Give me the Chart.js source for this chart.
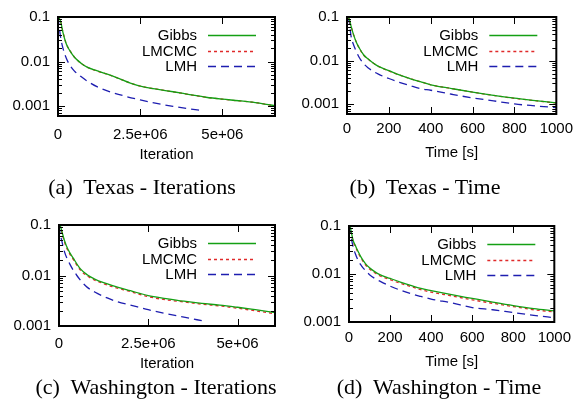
<!DOCTYPE html>
<html><head><meta charset="utf-8">
<script src="https://cdn.jsdelivr.net/npm/chart.js@4.4.1/dist/chart.umd.min.js"></script>
<style>
html,body{margin:0;padding:0;background:#fff;}
body{width:579px;height:412px;position:relative;overflow:hidden;}
canvas{position:absolute;}
.cap{position:absolute;font-family:"Liberation Serif","Times New Roman",serif;font-size:22px;color:#000;white-space:pre;transform:translate(-50%,-50%);line-height:1;}
</style></head><body>
<canvas id="c0"></canvas><canvas id="c1"></canvas><canvas id="c2"></canvas><canvas id="c3"></canvas>
<div class="cap" id="t0"></div><div class="cap" id="t1"></div><div class="cap" id="t2"></div><div class="cap" id="t3"></div>
<script>
// ---------- data ----------
const seriesNames = ['Gibbs', 'LMCMC', 'LMH'];
const captions = ['(a)  Texas - Iterations', '(b)  Texas - Time', '(c)  Washington - Iterations', '(d)  Washington - Time'];
const xTitles = ['Iteration', 'Time [s]', 'Iteration', 'Time [s]'];

const iterTicks = [0, 2500000, 5000000];
const iterTickLabels = ['0', '2.5e+06', '5e+06'];
const timeTicks = [0, 200, 400, 600, 800, 1000];
const timeTickLabels = ['0', '200', '400', '600', '800', '1000'];
const yTicks = [0.001, 0.01, 0.1];
const yTickLabels = ['0.001', '0.01', '0.1'];

// (a) Texas - Iterations
const texasIterX = [0, 0.03e6, 0.08e6, 0.15e6, 0.25e6, 0.35e6, 0.5e6, 0.7e6, 0.9e6, 1.2e6, 1.5e6, 1.8e6, 2.2e6, 2.6e6, 3.0e6, 3.5e6, 4.0e6, 4.5e6, 5.0e6, 5.5e6, 6.0e6, 6.6e6];
const texasIterGibbs = [0.1, 0.095, 0.08, 0.045, 0.025, 0.018, 0.0125, 0.0092, 0.0074, 0.0062, 0.0052, 0.0043, 0.0033, 0.0027, 0.0024, 0.0021, 0.00182, 0.00158, 0.00143, 0.00132, 0.0012, 0.00102];
const texasIterLMCMC = [0.1, 0.094, 0.079, 0.046, 0.0252, 0.0181, 0.0126, 0.0091, 0.0074, 0.0061, 0.0052, 0.0043, 0.0033, 0.0027, 0.0024, 0.0021, 0.00181, 0.00158, 0.00143, 0.00131, 0.0012, 0.00101];
const texasIterLmhX = [0, 0.03e6, 0.08e6, 0.15e6, 0.25e6, 0.35e6, 0.5e6, 0.7e6, 0.9e6, 1.2e6, 1.5e6, 2.0e6, 2.5e6, 3.0e6, 3.5e6, 4.0e6, 4.35e6];
const texasIterLMH = [0.1, 0.065, 0.035, 0.02, 0.012, 0.0085, 0.0061, 0.0046, 0.0036, 0.0027, 0.0022, 0.0017, 0.00138, 0.00115, 0.00099, 0.00087, 0.0008];

// (b) Texas - Time
const texasTimeX = [0, 5, 10, 20, 30, 45, 60, 80, 100, 125, 150, 200, 250, 300, 350, 400, 500, 600, 700, 800, 900, 1000];
const texasTimeGibbs = [0.1, 0.098, 0.092, 0.06, 0.041, 0.026, 0.019, 0.0135, 0.011, 0.0088, 0.0074, 0.0059, 0.0047, 0.0039, 0.0033, 0.0028, 0.0023, 0.0019, 0.0016, 0.00138, 0.00122, 0.00108];
const texasTimeLMCMC = [0.1, 0.097, 0.09, 0.059, 0.041, 0.0262, 0.0188, 0.0133, 0.0109, 0.0088, 0.0074, 0.0058, 0.0047, 0.0039, 0.0033, 0.0028, 0.0023, 0.0019, 0.0016, 0.00137, 0.00121, 0.00107];
const texasTimeLMH = [0.1, 0.095, 0.08, 0.035, 0.024, 0.016, 0.0115, 0.0085, 0.0069, 0.0057, 0.0049, 0.0039, 0.0032, 0.0027, 0.0023, 0.0021, 0.0017, 0.0014, 0.0012, 0.00102, 0.00092, 0.00084];

// (c) Washington - Iterations
const waIterX = [0, 0.03e6, 0.08e6, 0.15e6, 0.25e6, 0.4e6, 0.6e6, 0.8e6, 1.0e6, 1.25e6, 1.5e6, 2.0e6, 2.5e6, 3.0e6, 3.5e6, 4.0e6, 4.5e6, 5.0e6, 5.5e6, 6.05e6];
const waIterGibbs = [0.1, 0.098, 0.075, 0.05, 0.033, 0.022, 0.0135, 0.0102, 0.0085, 0.0072, 0.0063, 0.005, 0.004, 0.0035, 0.0031, 0.0028, 0.0026, 0.00235, 0.0021, 0.00185];
const waIterLMCMC = [0.1, 0.095, 0.072, 0.047, 0.031, 0.0208, 0.0128, 0.0097, 0.0081, 0.0069, 0.006, 0.0048, 0.0038, 0.0033, 0.003, 0.0027, 0.0025, 0.00225, 0.002, 0.00175];
const waIterLmhX = [0, 0.03e6, 0.08e6, 0.15e6, 0.3e6, 0.5e6, 0.75e6, 1.0e6, 1.35e6, 1.65e6, 2.0e6, 2.5e6, 3.0e6, 3.5e6, 4.05e6];
const waIterLMH = [0.1, 0.07, 0.048, 0.03, 0.017, 0.01, 0.0062, 0.0047, 0.0036, 0.003, 0.0026, 0.0021, 0.00176, 0.0015, 0.00125];

// (d) Washington - Time
const waTimeX = [0, 5, 10, 20, 30, 45, 60, 80, 100, 125, 150, 200, 250, 300, 350, 400, 500, 600, 700, 800, 900, 1000];
const waTimeGibbs = [0.1, 0.1, 0.08, 0.05, 0.04, 0.029, 0.022, 0.0165, 0.0135, 0.0112, 0.0097, 0.0081, 0.0068, 0.0058, 0.005, 0.0045, 0.0037, 0.0031, 0.0026, 0.0022, 0.0019, 0.0017];
const waTimeLMCMC = [0.1, 0.097, 0.077, 0.048, 0.038, 0.0275, 0.0208, 0.0156, 0.0127, 0.0106, 0.0092, 0.0076, 0.0064, 0.0055, 0.0047, 0.0042, 0.0035, 0.0029, 0.00245, 0.0021, 0.0018, 0.00162];
const waTimeLMH = [0.1, 0.085, 0.06, 0.037, 0.027, 0.019, 0.015, 0.0118, 0.0097, 0.0081, 0.0071, 0.0056, 0.0046, 0.0039, 0.0034, 0.003, 0.0025, 0.002, 0.0018, 0.00157, 0.00138, 0.00123];

// ---------- styling / layout ----------
const SANS = '"Liberation Sans", Arial, Helvetica, sans-serif';
const colors = ['#14a014', '#e02a2a', '#1e1eb0'];
const dashes = [[], [3, 3], [8, 5]];
const widths = [1.3, 1.3, 1.3];

function pts(xs, ys) { return xs.map((x, i) => ({ x: x, y: ys[i] })); }

const panels = [
  { L: 58, T: 12, R: 275, B: 116, padL: 56, xMax: 6.6e6, yMin: 0.0006, xt: iterTicks, xl: iterTickLabels,
    tickY: 135, titleY: 155, capX: 142, capY: 187,
    series: [pts(texasIterX, texasIterGibbs), pts(texasIterX, texasIterLMCMC), pts(texasIterLmhX, texasIterLMH)] },
  { L: 347, T: 12, R: 560, B: 114, padL: 60, xMax: 1000, yMin: 0.0006, xt: timeTicks, xl: timeTickLabels,
    tickY: 129, titleY: 153, capX: 425, capY: 187,
    series: [pts(texasTimeX, texasTimeGibbs), pts(texasTimeX, texasTimeLMCMC), pts(texasTimeX, texasTimeLMH)] },
  { L: 59, T: 220, R: 275, B: 326, padL: 56, xMax: 6.05e6, yMin: 0.001, xt: iterTicks, xl: iterTickLabels,
    tickY: 344, titleY: 364, capX: 156, capY: 387,
    series: [pts(waIterX, waIterGibbs), pts(waIterX, waIterLMCMC), pts(waIterLmhX, waIterLMH)] },
  { L: 349, T: 221, R: 559, B: 322, padL: 60, xMax: 1000, yMin: 0.001, xt: timeTicks, xl: timeTickLabels,
    tickY: 338, titleY: 362, capX: 439, capY: 387,
    series: [pts(waTimeX, waTimeGibbs), pts(waTimeX, waTimeLMCMC), pts(waTimeX, waTimeLMH)] }
];

const framePlugin = {
  id: 'gnuframe',
  afterDatasetsDraw(chart) {
    const ctx = chart.ctx, a = chart.chartArea;
    const xs = chart.scales.x, ys = chart.scales.y;
    ctx.save();
    ctx.strokeStyle = '#000';
    ctx.lineWidth = 1;
    ctx.beginPath();
    for (let d = -4; d <= -1; d++) {
      for (let m = 1; m <= 9; m++) {
        const v = m * Math.pow(10, d);
        if (v <= ys.min * 1.0001 || v >= ys.max * 0.9999) continue;
        const p = Math.round(ys.getPixelForValue(v)) + 0.5;
        const len = m === 1 ? 7 : 4;
        ctx.moveTo(a.left, p); ctx.lineTo(a.left + len, p);
        ctx.moveTo(a.right, p); ctx.lineTo(a.right - len, p);
      }
    }
    xs.ticks.forEach(t => {
      if (t.value <= xs.min || t.value >= xs.max) return;
      const p = Math.round(xs.getPixelForValue(t.value)) + 0.5;
      ctx.moveTo(p, a.top); ctx.lineTo(p, a.top + 7);
      ctx.moveTo(p, a.bottom); ctx.lineTo(p, a.bottom - 7);
    });
    ctx.stroke();
    ctx.lineWidth = 2;
    ctx.strokeRect(a.left, a.top, a.right - a.left, a.bottom - a.top);
    // legend
    ctx.font = '15px ' + SANS;
    ctx.textAlign = 'right';
    ctx.textBaseline = 'middle';
    for (let i = 0; i < seriesNames.length; i++) {
      const y = Math.round(a.top + 18 + i * 15.5);
      ctx.fillStyle = '#000';
      ctx.fillText(seriesNames[i], a.right - 78, y + 1);
      ctx.strokeStyle = colors[i];
      ctx.lineWidth = 1.5;
      ctx.setLineDash(dashes[i]);
      ctx.beginPath();
      ctx.moveTo(a.right - 67, y + 0.5);
      ctx.lineTo(a.right - 19, y + 0.5);
      ctx.stroke();
      ctx.setLineDash([]);
    }
    ctx.restore();
  }
};

panels.forEach((p, k) => {
  const padT = 12, padR = 19, padB = 62;
  const cv = document.getElementById('c' + k);
  const W = p.padL + (p.R - p.L) + padR;
  const H = padT + (p.B - p.T) + padB;
  cv.width = W; cv.height = H;
  cv.style.left = (p.L - p.padL) + 'px';
  cv.style.top = (p.T - padT) + 'px';
  cv.style.width = W + 'px'; cv.style.height = H + 'px';
  const cap = document.getElementById('t' + k);
  cap.textContent = captions[k];
  cap.style.left = p.capX + 'px';
  cap.style.top = p.capY + 'px';

  new Chart(cv, {
    type: 'line',
    data: {
      datasets: p.series.map((d, i) => ({
        label: seriesNames[i], data: d, borderColor: colors[i], borderWidth: widths[i],
        borderDash: dashes[i], pointRadius: 0, fill: false, cubicInterpolationMode: 'monotone'
      }))
    },
    options: {
      responsive: false, animation: false, devicePixelRatio: 1,
      layout: { autoPadding: false, padding: { left: 0, top: padT, right: padR, bottom: 0 } },
      plugins: { legend: { display: false }, tooltip: { enabled: false } },
      scales: {
        x: {
          type: 'linear', position: 'bottom', min: 0, max: p.xMax,
          grid: { display: false, drawTicks: false, tickLength: 0 }, border: { display: false },
          afterBuildTicks: s => { s.ticks = p.xt.map(v => ({ value: v })); },
          afterFit: s => { s.height = padB; },
          ticks: { autoSkip: false, maxRotation: 0, color: '#000', font: { family: SANS, size: 15 },
            padding: p.tickY - p.B - 9,
            callback: v => p.xl[p.xt.indexOf(v)] },
          title: { display: true, text: xTitles[k], color: '#000', font: { family: SANS, size: 15 },
            padding: { top: 0, bottom: (p.B + padB) - p.titleY - 9 } }
        },
        y: {
          type: 'logarithmic', position: 'left', min: p.yMin, max: 0.1,
          grid: { display: false, drawTicks: false, tickLength: 0 }, border: { display: false },
          afterBuildTicks: s => { s.ticks = yTicks.filter(v => v >= p.yMin && v <= 0.1).map(v => ({ value: v })); },
          afterFit: s => { s.width = p.padL; },
          ticks: { autoSkip: false, color: '#000', font: { family: SANS, size: 15 }, padding: 8,
            callback: v => yTickLabels[yTicks.indexOf(v)] }
        }
      }
    },
    plugins: [framePlugin]
  });
});
</script>
</body></html>
